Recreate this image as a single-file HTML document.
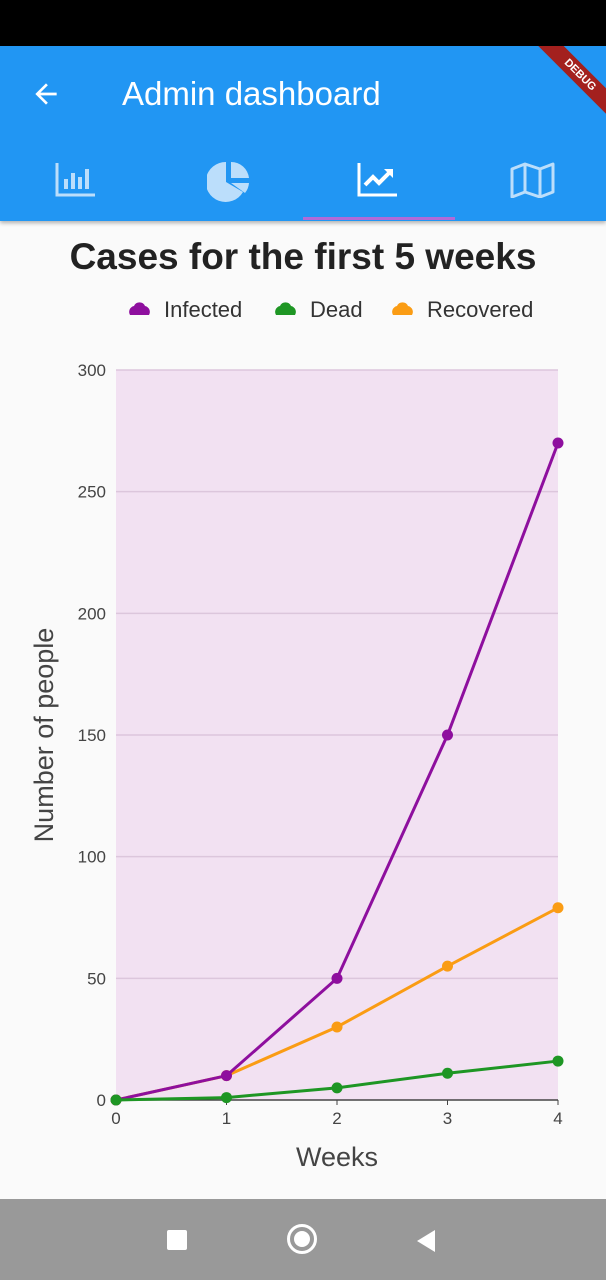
<!DOCTYPE html>
<html><head><meta charset="utf-8"><style>
body{margin:0;width:606px;height:1280px;background:#fafafa;font-family:"Liberation Sans",sans-serif;position:relative;overflow:hidden}
.abs{position:absolute}
</style></head><body>
<div class="abs" style="left:0;top:0;width:606px;height:46px;background:#000"></div>
<div class="abs" style="left:0;top:46px;width:606px;height:175px;background:#2196f3;box-shadow:0 2px 4px rgba(0,0,0,.3);overflow:hidden">
 <svg class="abs" style="left:30px;top:32px" width="32" height="32" viewBox="0 0 24 24"><path d="M20 11H7.8l5.6-5.6L12 4l-8 8 8 8 1.4-1.4L7.8 13H20z" fill="#fff"/></svg>
 <div class="abs" style="left:122px;top:29px;font-size:33px;color:#fff">Admin dashboard</div>
 <div class="abs" style="left:520px;top:20px;width:120px;height:18px;background:#a3201e;color:#fff;font-size:11px;font-weight:bold;text-align:center;line-height:18px;transform:rotate(45deg)">DEBUG</div>
 <svg class="abs" style="left:55px;top:115px" width="42" height="36" viewBox="0 0 42 36"><path d="M2 2v32h38" stroke="#bbdefb" stroke-width="3" fill="none"/><rect x="9" y="18" width="4" height="10" fill="#bbdefb"/><rect x="16" y="12" width="4" height="16" fill="#bbdefb"/><rect x="23" y="16" width="4" height="12" fill="#bbdefb"/><rect x="30" y="8" width="4" height="20" fill="#bbdefb"/></svg>
 <svg class="abs" style="left:207px;top:114px" width="44" height="42" viewBox="0 0 44 42"><path d="M19 2A20 20 0 1 0 36 32L19 22z" fill="#bbdefb"/><path d="M24 2A18 18 0 0 1 42 18H24z" fill="#bbdefb"/><path d="M24 23h18a18 18 0 0 1-4 10z" fill="#bbdefb"/></svg>
 <svg class="abs" style="left:357px;top:116px" width="42" height="36" viewBox="0 0 42 36"><path d="M2 1v32h38" stroke="#fff" stroke-width="3" fill="none"/><path d="M8 23l8-8 6 6 10-10" stroke="#fff" stroke-width="4" fill="none"/><path d="M27 7h9v9z" fill="#fff"/></svg>
 <svg class="abs" style="left:510px;top:116px" width="46" height="36" viewBox="0 0 46 36"><path d="M2 7l13-5 15 5 13-5v28l-13 5-15-5-13 5z M15 2v28 M30 7v28" stroke="#bbdefb" stroke-width="3" fill="none" stroke-linejoin="round"/></svg>
 <div class="abs" style="left:303px;top:171px;width:152px;height:3px;background:#b06ad8"></div>
</div>
<div class="abs" style="left:0;top:236px;width:606px;text-align:center;font-size:37px;font-weight:bold;color:#222">Cases for the first 5 weeks</div>
<svg class="abs" id="chart" style="left:0;top:0" width="606" height="1200"></svg>
<div class="abs" style="left:0;top:1199px;width:606px;height:81px;background:#999">
 <div class="abs" style="left:167px;top:31px;width:20px;height:20px;background:#fff;border-radius:2px"></div>
 <div class="abs" style="left:287px;top:25px;width:24px;height:24px;border:3px solid #fff;border-radius:50%;box-sizing:content-box"><div style="margin:4px;width:16px;height:16px;border-radius:50%;background:#fff"></div></div>
 <svg class="abs" style="left:415px;top:30px" width="22" height="24"><path d="M20 1v22L2 12z" fill="#fff"/></svg>
</div>
<script>
const weeks=[0,1,2,3,4];
const infected=[0,10,50,150,270];
const dead=[0,1,5,11,16];
const recovered=[0,10,30,55,79];
const yTicks=[0,50,100,150,200,250,300];
const seriesNames=["Infected","Dead","Recovered"];
const seriesColors=["#8e0f9e","#1e9624","#fa9c14"];
const svg=document.getElementById('chart');
const NS="http://www.w3.org/2000/svg";
const X0=116,X1=558,Y0=1100,Y1=370;
const xs=v=>X0+(X1-X0)*v/4;
const ys=v=>Y0-(Y0-Y1)*v/300;
function mk(t,a){const e=document.createElementNS(NS,t);for(const k in a)e.setAttribute(k,a[k]);svg.appendChild(e);return e;}
let e=mk('rect',{x:X0,y:Y1,width:X1-X0,height:Y0-Y1,fill:'#f2e1f2'});


yTicks.forEach(t=>{
 if(t>0){const g=mk('line',{x1:X0,x2:X1,y1:ys(t),y2:ys(t),stroke:'#dcc6dc','stroke-width':1.5});
 
 }
 const l=mk('text',{x:106,y:ys(t)+6,'text-anchor':'end','font-size':17,fill:'#444','font-family':'Liberation Sans, sans-serif'});
 l.textContent=t;
 
 
});
e=mk('line',{x1:X0,x2:X1,y1:Y0,y2:Y0,stroke:'#444','stroke-width':1.5});


weeks.forEach(w=>{
 const t=mk('line',{x1:xs(w),x2:xs(w),y1:Y0,y2:Y0+5,stroke:'#444','stroke-width':1});
 
 
 const l=mk('text',{x:xs(w),y:Y0+24,'text-anchor':'middle','font-size':17,fill:'#444','font-family':'Liberation Sans, sans-serif'});
 l.textContent=w;
 
 
});
e=mk('text',{x:337,y:1166,'text-anchor':'middle','font-size':27,fill:'#444','font-family':'Liberation Sans, sans-serif'});
e.textContent='Weeks';


e=mk('text',{x:0,y:0,'text-anchor':'middle','font-size':27,fill:'#444','font-family':'Liberation Sans, sans-serif',transform:'translate(53,735) rotate(-90)'});
e.textContent='Number of people';


const data=[infected,dead,recovered];
[2,0,1].forEach(i=>{
 const d=data[i];
 const p=mk('polyline',{points:weeks.map((w,j)=>xs(w)+','+ys(d[j])).join(' '),fill:'none',stroke:seriesColors[i],'stroke-width':3});
 
 
 weeks.forEach((w,j)=>{
  const c=mk('circle',{cx:xs(w),cy:ys(d[j]),r:5.5,fill:seriesColors[i]});
  
  
 });
});
const legX=[130,276,393];
seriesNames.forEach((n,i)=>{
 const c=mk('path',{d:`M${legX[i]} ${315}h19a6 6 0 0 0-4-9a6 6 0 0 0-11 0a6 6 0 0 0-4 9z`,fill:seriesColors[i]});
 
 
 const t=mk('text',{x:legX[i]+34,y:317,'font-size':22,fill:'#333','font-family':'Liberation Sans, sans-serif'});
 t.textContent=n;
 
 
});
</script>
</body></html>
